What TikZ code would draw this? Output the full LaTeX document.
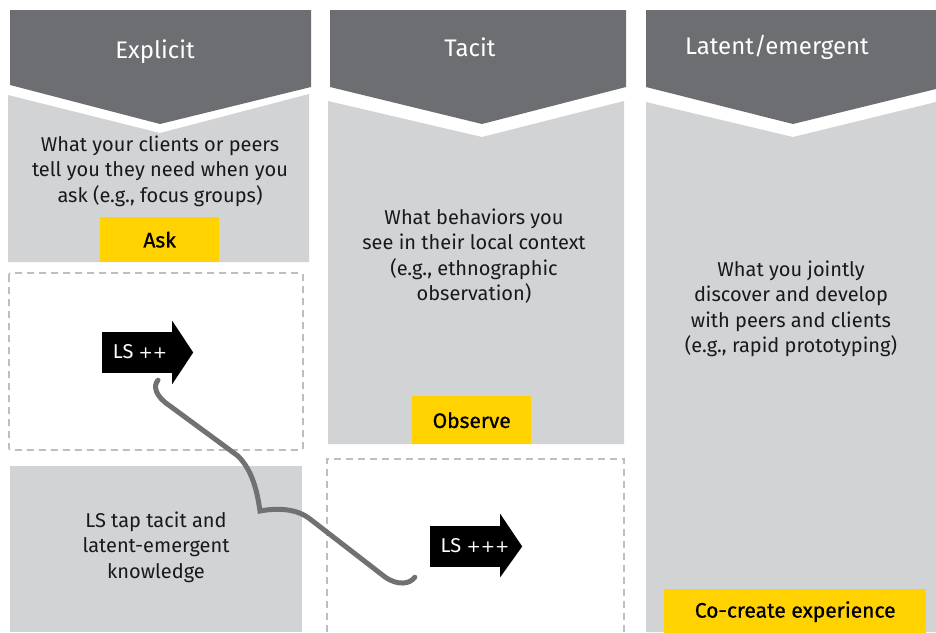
\documentclass[tikz,border=0pt]{standalone}
\usepackage{fontspec}
\setmainfont{Fira Sans}
\newfontfamily\labelfont{Fira Sans}[FakeBold=0.8]
\newfontfamily\plusfont{DejaVu Sans}
\newcommand{\pls}{{\plusfont\fontsize{17}{20}\selectfont +}}
\usetikzlibrary{calc}
\definecolor{hdr}{HTML}{6D6E71}
\definecolor{pnl}{HTML}{D1D3D4}
\definecolor{ylw}{HTML}{FFD200}
\definecolor{dsh}{HTML}{BCBEC0}
\definecolor{crv}{HTML}{707173}
\tikzset{
  hdrtext/.style={text=white, font=\fontsize{24}{28}\selectfont, inner sep=0pt},
  bodytext/.style={text=black!90, font=\fontsize{20}{25.5}\selectfont, align=center, inner sep=0pt},
  labelbox/.style={fill=ylw, font=\labelfont\fontsize{21}{24}\selectfont, inner sep=0pt, anchor=north west},
  dashbox/.style={draw=dsh, line width=1.8pt, dash pattern=on 7pt off 5pt},
  arrowbody/.style={fill=black, inner sep=0pt, minimum width=70pt, minimum height=41pt},
  arrowtext/.style={text=white, font=\fontsize{20}{22}\selectfont, inner sep=0pt},
  curve/.style={draw=crv, line width=5pt, line cap=round, line join=miter},
}
\begin{document}
\begin{tikzpicture}[x=1pt,y=-1pt]
\useasboundingbox (0,0) rectangle (936,632);
% headers
\fill[hdr] (10,10) -- (311,10) -- (311,87) -- (160,124) -- (10,85) -- cycle;
\fill[hdr] (330,10) -- (626,10) -- (626,87) -- (482,124) -- (330,87) -- cycle;
\fill[hdr] (646,10) -- (936,10) -- (936,89) -- (793,124) -- (646,87) -- cycle;
% panels
\fill[pnl] (8,95) -- (160,133) -- (309,94) -- (309,262) -- (8,262) -- cycle;
\fill[pnl] (328,101) -- (482,137) -- (624,101) -- (624,444) -- (328,444) -- cycle;
\fill[pnl] (646,102) -- (793,137) -- (936,102) -- (936,632) -- (646,632) -- cycle;
\fill[pnl] (10,466) rectangle (302,632);
% dashed boxes
\draw[dashbox, rounded corners=2pt] (9,273) rectangle (303,450);
\draw[dashbox] (327,632) -- (327,459) -- (624,459) -- (624,632);
% header texts
\node[hdrtext] (h1) at (155,52) {Explicit};
\node[hdrtext] (h2) at (470,47) {Tacit};
\node[hdrtext] (h3) at (777,47) {Latent/emergent};
% body texts
\node[bodytext] (t1) at (160,171) {What your clients or peers\\tell you they need when you\\ask (e.g., focus groups)};
\node[bodytext] (t2) at (474,256) {What behaviors you\\see in their local context\\(e.g., ethnographic\\observation)};
\node[bodytext] (t3) at (791,309) {What you jointly\\discover and develop\\with peers and clients\\(e.g., rapid prototyping)};
\node[bodytext] (t4) at (156,547) {LS tap tacit and\\latent-emergent\\knowledge};
% yellow labels
\node[labelbox, minimum width=119pt, minimum height=45pt] (ask) at (100,217) {Ask};
\node[labelbox, minimum width=119pt, minimum height=48pt] (obs) at (412,396) {Observe};
\node[labelbox, minimum width=262pt, minimum height=45pt] (cc) at (664,589) {Co-create experience};
% arrows
\node[arrowbody] (a1) at (137,352.5) {};
\fill[black] ($(a1.north east)+(0,-11)$) -- ($(a1.east)+(21,0)$) -- ($(a1.south east)+(0,11)$) -- cycle;
\node[arrowtext] (a1t) at (140,352) {LS \pls\pls};
\node[arrowbody] (a2) at (465,546.5) {};
\fill[black] ($(a2.north east)+(0,-12)$) -- ($(a2.east)+(22,0)$) -- ($(a2.south east)+(0,10)$) -- cycle;
\node[arrowtext] (a2t) at (475,546) {LS \pls\pls\pls};
% curve
\coordinate (c1) at ($(a1.south)+(21,7)$);
\coordinate (c2) at ($(a2.south west)+(-15,10)$);
\draw[curve] (c1) .. controls (153,386) and (155,396) .. (170,406)
  -- (238,456)
  .. controls (252,470) and (257,490) .. (260,511)
  .. controls (276,508) and (296,508) .. (310,519)
  -- (385,577)
  .. controls (398,586) and (410,584) .. (c2);
\end{tikzpicture}
\end{document}
